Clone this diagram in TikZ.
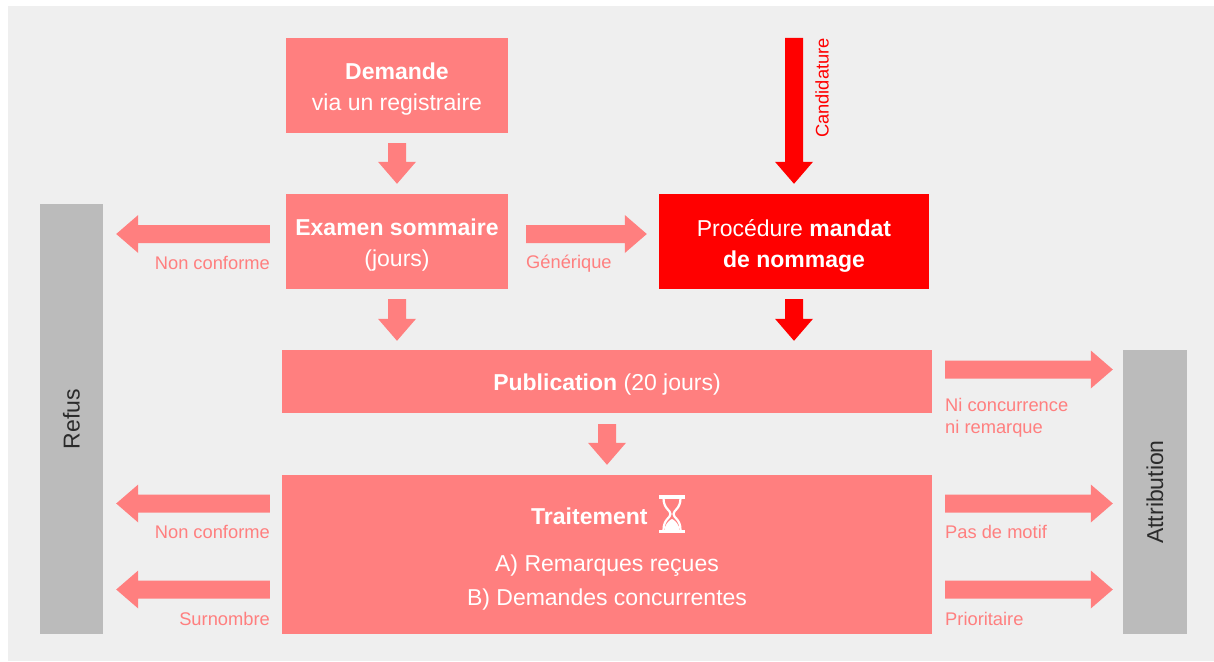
\documentclass[tikz,border=0pt]{standalone}
\usepackage{fontspec}
\setmainfont{Liberation Sans}
\usetikzlibrary{calc}
\definecolor{salm}{HTML}{FF7F7F}
\definecolor{rd}{HTML}{FF0000}
\definecolor{bgc}{HTML}{EFEFEF}
\definecolor{barc}{HTML}{BBBBBB}
\definecolor{txtd}{HTML}{2B2B2B}
\newcommand\bxfont{\fontsize{23}{31}\selectfont}
\newcommand\lbfont{\fontsize{18.3}{22}\selectfont}
\tikzset{
  bx/.style={fill=salm, inner sep=0pt},
  bxt/.style={text=white, inner sep=0pt, align=center, font=\bxfont},
  bar/.style={fill=barc, inner sep=0pt},
  bartext/.style={rotate=90, text=txtd, font=\bxfont, inner sep=0pt},
  lbl/.style={text=salm, font=\lbfont, inner sep=0pt},
  barrow/.style={fill=#1, draw=none, to path={
    (\tikztostart) coordinate (bas) (\tikztotarget) coordinate (bat)
    ($(bat)!22pt!(bas)$) coordinate (bab)
    ($(bas)!9pt!90:(bat)$) -- ($(bab)!9pt!90:(bat)$) -- ($(bab)!19pt!90:(bat)$) -- (bat)
    -- ($(bab)!19pt!-90:(bat)$) -- ($(bab)!9pt!-90:(bat)$) -- ($(bas)!9pt!-90:(bat)$) -- cycle}},
  barrow/.default=salm
}
\begin{document}
\begin{tikzpicture}[x=1pt,y=-1pt]
\useasboundingbox (0,0) rectangle (1214,661);
\fill[white] (0,0) rectangle (1214,661);
\fill[bgc] (8,6) rectangle (1214,661);

% boxes
\node[bx, minimum width=222pt, minimum height=95pt] (dem) at (397,85.5) {};
\node[bxt] (demtxt) at ([yshift=-3.5pt]dem.center) {\textbf{Demande}\\via un registraire};
\node[bx, minimum width=222pt, minimum height=95pt] (exam) at (397,241.5) {};
\node[bxt] (examtxt) at ([yshift=-4pt]exam.center) {\textbf{Examen sommaire}\\(jours)};
\node[bx, fill=rd, minimum width=270pt, minimum height=95pt] (proc) at (794,241.5) {};
\node[bxt] (proctxt) at ([yshift=-4pt]proc.center) {Procédure \textbf{mandat}\\\textbf{de nommage}};
\node[bx, minimum width=650pt, minimum height=63pt] (pub) at (607,381.5) {};
\node[bxt] (pubtxt) at ([yshift=-3.5pt]pub.center) {\textbf{Publication} (20 jours)};
\node[bx, minimum width=650pt, minimum height=159pt] (trait) at (607,554.5) {};
\node[bxt, anchor=base west] (traittitle) at (531,524) {\textbf{Traitement}};
\node[bxt, font=\fontsize{23}{34}\selectfont] (traitlist) at (607,583) {A) Remarques reçues\\B) Demandes concurrentes};

% hourglass
\fill[white] (659,495) rectangle (685,498.5);
\fill[white] (659,529.5) rectangle (685,533);
\draw[white, line width=2.2pt] (663.5,498) .. controls (663.5,509) and (670.5,510) .. (670.5,514) .. controls (670.5,518) and (663.5,519) .. (663.5,530);
\draw[white, line width=2.2pt] (680.5,498) .. controls (680.5,509) and (673.5,510) .. (673.5,514) .. controls (673.5,518) and (680.5,519) .. (680.5,530);
\fill[white] (665,530) -- (665,527) .. controls (667,522) and (670,520) .. (672,519) .. controls (674,520) and (677,522) .. (679,527) -- (679,530) -- cycle;

% side bars
\node[bar, minimum width=63pt, minimum height=430pt] (refus) at (71.5,419) {};
\node[bartext] (refustxt) at (refus.center) {Refus};
\node[bar, minimum width=64pt, minimum height=284pt] (attr) at (1155,492) {};
\node[bartext] (attrtxt) at (attr.center) {Attribution};

% candidature
\coordinate (cand) at (794,38);
\node[lbl, text=rd, rotate=90, anchor=east] (candtxt) at (822,38) {Candidature};

% arrows
\path[barrow] ([yshift=-10pt]dem.south) to ([yshift=10pt]exam.north);
\path[barrow] ([yshift=-10pt]exam.south) to ([yshift=9pt]exam.south |- pub.north);
\path[barrow=rd] ([yshift=-10pt]proc.south) to ([yshift=9pt]proc.south |- pub.north);
\path[barrow] ([yshift=-11pt]pub.south) to ([yshift=10pt]trait.north);
\path[barrow=rd] (cand) to ([yshift=10pt]proc.north);
\path[barrow] ([xshift=-16pt,yshift=7.5pt]exam.west) to ([xshift=13pt,yshift=7.5pt]refus.east |- exam.west);
\path[barrow] ([xshift=18pt,yshift=7.5pt]exam.east) to ([xshift=-12pt,yshift=7.5pt]proc.west);
\path[barrow] ([xshift=13pt,yshift=12pt]pub.east) to ([xshift=-10pt,yshift=12pt]attr.west |- pub.east);
\path[barrow] ([xshift=-12pt,yshift=51pt]trait.west) to ([xshift=13pt,yshift=51pt]refus.east |- trait.west);
\path[barrow] ([xshift=-12pt,yshift=-35pt]trait.west) to ([xshift=13pt,yshift=-35pt]refus.east |- trait.west);
\path[barrow] ([xshift=13pt,yshift=51pt]trait.east) to ([xshift=-10pt,yshift=51pt]attr.west |- trait.east);
\path[barrow] ([xshift=13pt,yshift=-35pt]trait.east) to ([xshift=-10pt,yshift=-35pt]attr.west |- trait.east);

% labels
\node[lbl, anchor=base east] (lnc1) at (270,269) {Non conforme};
\node[lbl, anchor=base west] (lgen) at (526,268) {Générique};
\node[lbl, anchor=base west] (lni1) at (945,411) {Ni concurrence};
\node[lbl, anchor=base west] (lni2) at (945,433) {ni remarque};
\node[lbl, anchor=base east] (lnc2) at (270,538) {Non conforme};
\node[lbl, anchor=base east] (lsur) at (270,625) {Surnombre};
\node[lbl, anchor=base west] (lpas) at (945,538) {Pas de motif};
\node[lbl, anchor=base west] (lprio) at (945,625) {Prioritaire};
\end{tikzpicture}
\end{document}
